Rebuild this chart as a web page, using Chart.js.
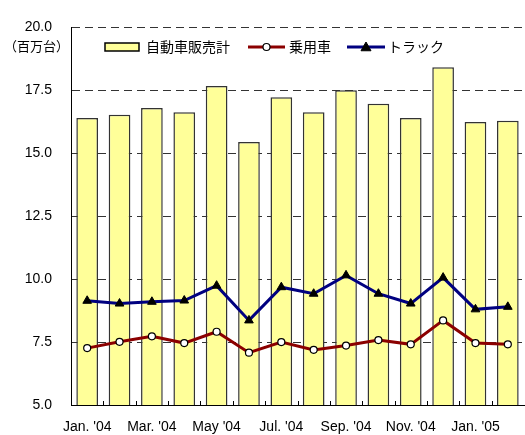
<!DOCTYPE html>
<html>
<head>
<meta charset="utf-8">
<script src="https://cdn.jsdelivr.net/npm/chart.js@4.4.1/dist/chart.umd.min.js"></script>
<style>
  html, body { margin: 0; padding: 0; background: #fff; }
  #wrap { position: relative; width: 525px; height: 435px; }
</style>
</head>
<body>
<div id="wrap"><canvas id="c" width="525" height="435"></canvas></div>
<script>
// Monthly vehicle sales, millions of units (annualised)
const months = ["Jan. '04", "Feb. '04", "Mar. '04", "Apr. '04", "May '04", "Jun. '04", "Jul. '04",
                "Aug. '04", "Sep. '04", "Oct. '04", "Nov. '04", "Dec. '04", "Jan. '05", "Feb. '05"];
const totalSales    = [16.40, 16.53, 16.80, 16.63, 17.67, 15.45, 17.23, 16.63, 17.50, 16.97, 16.40, 18.42, 16.24, 16.29];
const passengerCars = [7.26, 7.51, 7.73, 7.46, 7.91, 7.08, 7.50, 7.19, 7.36, 7.58, 7.41, 8.36, 7.46, 7.41];
const trucks        = [9.14, 9.03, 9.10, 9.15, 9.74, 8.36, 9.68, 9.42, 10.15, 9.42, 9.03, 10.06, 8.80, 8.90];
const seriesNames   = ["自動車販売計", "乗用車", "トラック"];
const unitLabel     = "（百万台）";
const yMin = 5, yMax = 20, yStep = 2.5;

const LATIN = "'Liberation Sans', Arial, sans-serif";
const CJK = "'Noto Sans CJK JP', sans-serif";

// Legend drawn inside the plot area, top-left
const insideLegend = {
  id: 'insideLegend',
  afterDraw(chart) {
    const ctx = chart.ctx;
    const y = 47;
    const byLabel = name => chart.data.datasets.find(d => d.label === name);
    const bar = byLabel(seriesNames[0]);
    ctx.save();
    ctx.font = "14px " + CJK;
    ctx.textBaseline = 'middle';
    // bar swatch
    ctx.fillStyle = bar.backgroundColor;
    ctx.strokeStyle = '#000';
    ctx.lineWidth = 1.5;
    ctx.fillRect(105, y - 4, 34, 8);
    ctx.strokeRect(105, y - 4, 34, 8);
    ctx.fillStyle = '#000';
    ctx.fillText(bar.label, 146, y);
    // line swatches
    const items = [[byLabel(seriesNames[1]), 248, 285, 289], [byLabel(seriesNames[2]), 347, 385, 388]];
    for (const [d, x0, x1, tx] of items) {
      ctx.strokeStyle = d.borderColor;
      ctx.lineWidth = d.borderWidth;
      ctx.beginPath(); ctx.moveTo(x0, y); ctx.lineTo(x1, y); ctx.stroke();
      const cx = (x0 + x1) / 2;
      ctx.fillStyle = d.pointBackgroundColor;
      ctx.strokeStyle = d.pointBorderColor;
      ctx.lineWidth = d.pointBorderWidth;
      ctx.beginPath();
      if (d.pointStyle === 'triangle') {
        const r = d.pointRadius;
        ctx.moveTo(cx, y - r); ctx.lineTo(cx + r, y + r * 0.75); ctx.lineTo(cx - r, y + r * 0.75); ctx.closePath();
      } else {
        ctx.arc(cx, y, d.pointRadius, 0, Math.PI * 2);
      }
      ctx.fill(); ctx.stroke();
      ctx.fillStyle = '#000';
      ctx.fillText(d.label, tx, y);
    }
    // unit label under the top tick
    ctx.font = "13px " + CJK;
    ctx.fillText(unitLabel, 4, 46);
    ctx.restore();
  }
};

// Short inward ticks at the category boundaries of the x axis
const innerTicks = {
  id: 'innerTicks',
  afterDatasetsDraw(chart) {
    const xs = chart.scales.x, ctx = chart.ctx;
    const bottom = chart.chartArea.bottom;
    const half = (xs.getPixelForValue(1) - xs.getPixelForValue(0)) / 2;
    ctx.save();
    ctx.strokeStyle = '#000';
    ctx.lineWidth = 1;
    for (let i = 1; i < months.length; i++) {
      const x = Math.round(xs.getPixelForValue(i) - half) + 0.5;
      ctx.beginPath(); ctx.moveTo(x, bottom); ctx.lineTo(x, bottom - 4); ctx.stroke();
    }
    ctx.restore();
  }
};

new Chart(document.getElementById('c'), {
  data: {
    labels: months,
    datasets: [
      {
        type: 'bar', label: seriesNames[0], data: totalSales, order: 2,
        backgroundColor: '#FFFF99', borderColor: '#333', borderWidth: 1.5,
        categoryPercentage: 1, barPercentage: 0.67
      },
      {
        type: 'line', label: seriesNames[1], data: passengerCars, order: 1,
        borderColor: '#8B0000', borderWidth: 3,
        pointStyle: 'circle', pointRadius: 3.5, pointBackgroundColor: '#fff',
        pointBorderColor: '#000', pointBorderWidth: 1.2
      },
      {
        type: 'line', label: seriesNames[2], data: trucks, order: 1,
        borderColor: '#000080', borderWidth: 3,
        pointStyle: 'triangle', pointRadius: 5, pointBackgroundColor: '#000',
        pointBorderColor: '#000', pointBorderWidth: 1
      }
    ]
  },
  options: {
    responsive: false,
    animation: false,
    devicePixelRatio: 1,
    layout: { autoPadding: false, padding: { top: 22, right: 1, left: 0, bottom: 0 } },
    plugins: { legend: { display: false }, tooltip: { enabled: false } },
    scales: {
      x: {
        type: 'category',
        offset: true,
        grid: { display: false, drawTicks: false },
        border: { display: true, color: '#000', width: 1 },
        ticks: {
          autoSkip: false, maxRotation: 0, padding: 14, color: '#000',
          font: { family: LATIN, size: 14 },
          callback: (v, i) => (i % 2 === 0 ? months[i] : '')
        },
        afterFit(s) { s.height = 30; }
      },
      y: {
        min: yMin, max: yMax,
        grid: { color: '#333', lineWidth: 1, drawTicks: false },
        border: { display: true, color: '#000', width: 1, dash: [8, 5] },
        ticks: {
          stepSize: yStep, padding: 19, color: '#000',
          font: { family: LATIN, size: 14 },
          callback: v => Number(v).toFixed(1)
        },
        afterFit(s) { s.width = 71; }
      }
    }
  },
  plugins: [insideLegend, innerTicks]
});
</script>
</body>
</html>
